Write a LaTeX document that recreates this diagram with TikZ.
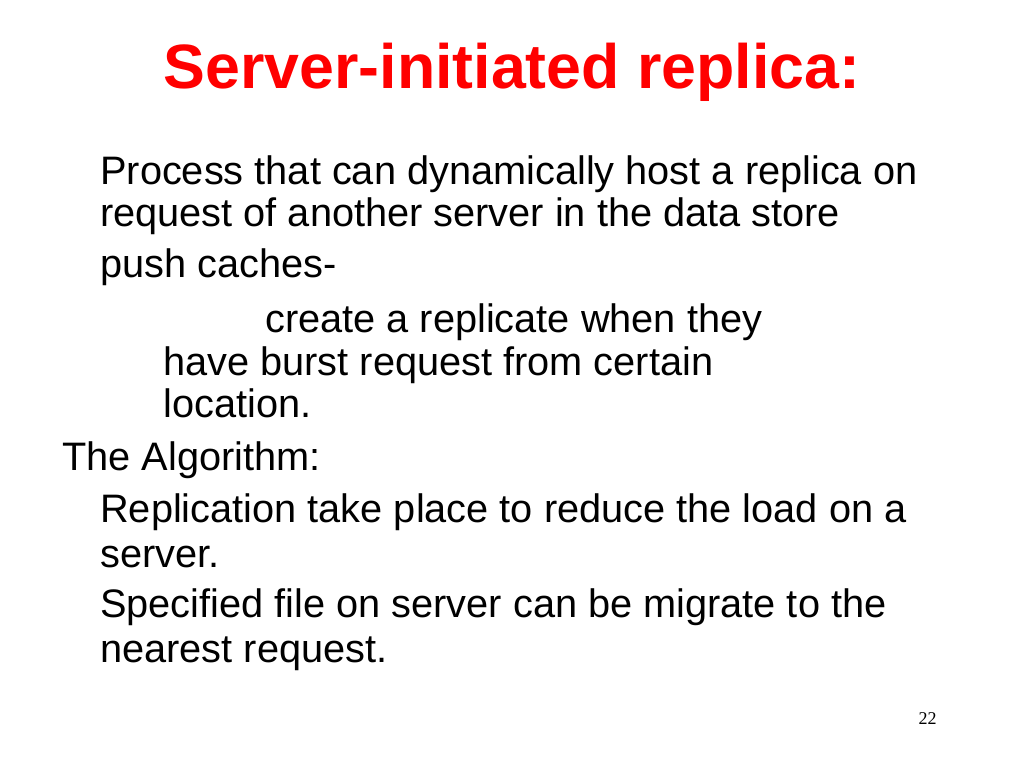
\documentclass[tikz,border=0pt]{standalone}
\usepackage{fontspec}
\setmainfont{Liberation Sans}
\newfontfamily\numfont{Liberation Serif}
\usetikzlibrary{positioning}
\definecolor{titlered}{RGB}{255,0,0}

\begin{document}
\begin{tikzpicture}[x=0.75pt,y=-0.75pt,
    bodytext/.style={anchor=base west,inner sep=0pt,font=\fontsize{29.8}{34}\selectfont},
    titletext/.style={anchor=base,inner sep=0pt,text=titlered,font=\fontsize{47}{56}\selectfont\bfseries}]
        % Page area
        \useasboundingbox (0,0) rectangle (1024,768);

        % Title
        \node[titletext] (title) at (512,88) {Server-initiated replica:};

        % Body text
        \node[bodytext] (l1) at (100,184) {Process that can dynamically host a replica on};
        \node[bodytext] (l2) at (100,226) {request of another server in the data store};
        \node[bodytext] (l3) at (100,277) {push caches-};
        \node[bodytext] (l4) at (265,332) {create a replicate when they};
        \node[bodytext] (l5) at (163,375) {have burst request from certain};
        \node[bodytext] (l6) at (163,417) {location.};
        \node[bodytext] (l7) at (62,470) {The Algorithm:};
        \node[bodytext] (l8) at (100,522) {Replication take place to reduce the load on a};
        \node[bodytext] (l9) at (100,567) {server.};
        \node[bodytext] (l10) at (100,617) {Specified file on server can be migrate to the};
        \node[bodytext] (l11) at (100,662) {nearest request.};

        % Page number
        \node[anchor=base east,inner sep=0pt,font=\numfont\fontsize{13.5}{16}\selectfont] (pagenum) at (937,724) {22};
\end{tikzpicture}
\end{document}
